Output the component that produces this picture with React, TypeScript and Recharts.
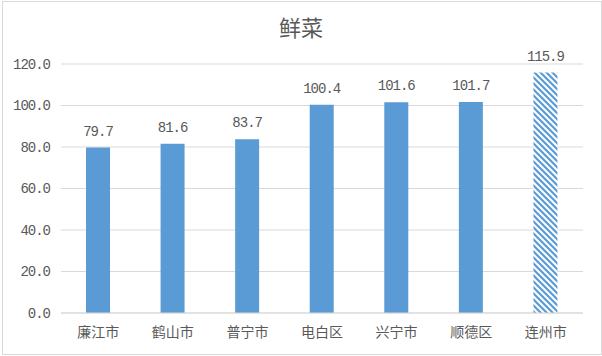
import React from 'react';
import { BarChart, Bar, XAxis, YAxis, CartesianGrid, Cell, LabelList } from 'recharts';

const categories = ['廉江市', '鹤山市', '普宁市', '电白区', '兴宁市', '顺德区', '连州市'];
const values = [79.7, 81.6, 83.7, 100.4, 101.6, 101.7, 115.9];
const yTicks = [0, 20, 40, 60, 80, 100, 120];
const title = '鲜菜';

const data = categories.map((name, i) => ({ name, value: values[i] }));

const BLUE = '#5B9BD5';
const TEXT = '#595959';
const numFont = '"Liberation Mono", "DejaVu Sans Mono", monospace';
const cjkFont = '"Noto Sans CJK SC", sans-serif';

export default function App() {
  return (
    <div style={{ position: 'fixed', left: 0, top: 0, width: 602, height: 356, background: '#fff' }}>
      <div
        style={{
          position: 'absolute',
          left: 2,
          top: 1,
          width: 600,
          height: 354,
          boxSizing: 'border-box',
          border: '1px solid #D9D9D9',
        }}
      />
      <div
        style={{
          position: 'absolute',
          left: 0,
          top: 11,
          width: 602,
          textAlign: 'center',
          fontFamily: cjkFont,
          fontSize: 22,
          lineHeight: '30px',
          color: TEXT,
        }}
      >
        {title}
      </div>
      <div style={{ position: 'absolute', left: 0, top: 0 }}>
        <BarChart
          width={602}
          height={356}
          data={data}
          margin={{ top: 64, right: 19, bottom: 13, left: 0 }}
        >
          <defs>
            <pattern id="hatch" patternUnits="userSpaceOnUse" width="6" height="6">
              <rect x="0" y="0" width="6" height="6" fill="#fff" />
              <path d="M-3,3 L3,9 M0,0 L6,6 M3,-3 L9,3" stroke={BLUE} strokeWidth="2.2" />
            </pattern>
          </defs>
          <CartesianGrid vertical={false} stroke="#D9D9D9" strokeWidth={1} />
          <XAxis
            dataKey="name"
            axisLine={{ stroke: '#D9D9D9' }}
            tickLine={false}
            height={30}
            tickMargin={8}
            tick={{ fill: TEXT, fontSize: 14, fontFamily: cjkFont }}
          />
          <YAxis
            domain={[0, 120]}
            ticks={yTicks}
            width={61}
            axisLine={false}
            tickLine={false}
            tickMargin={5}
            tickFormatter={(v: number) => v.toFixed(1)}
            tick={{ fill: TEXT, fontSize: 14, fontFamily: numFont, letterSpacing: -1 }}
            interval={0}
          />
          <Bar dataKey="value" barSize={24} isAnimationActive={false}>
            {data.map((d, i) => (
              <Cell key={d.name} fill={i === data.length - 1 ? 'url(#hatch)' : BLUE} />
            ))}
            <LabelList
              dataKey="value"
              position="top"
              offset={12}
              formatter={(v: number) => Number(v).toFixed(1)}
              style={{ fill: TEXT, fontSize: 14, fontFamily: numFont, letterSpacing: -1 }}
            />
          </Bar>
        </BarChart>
      </div>
    </div>
  );
}
